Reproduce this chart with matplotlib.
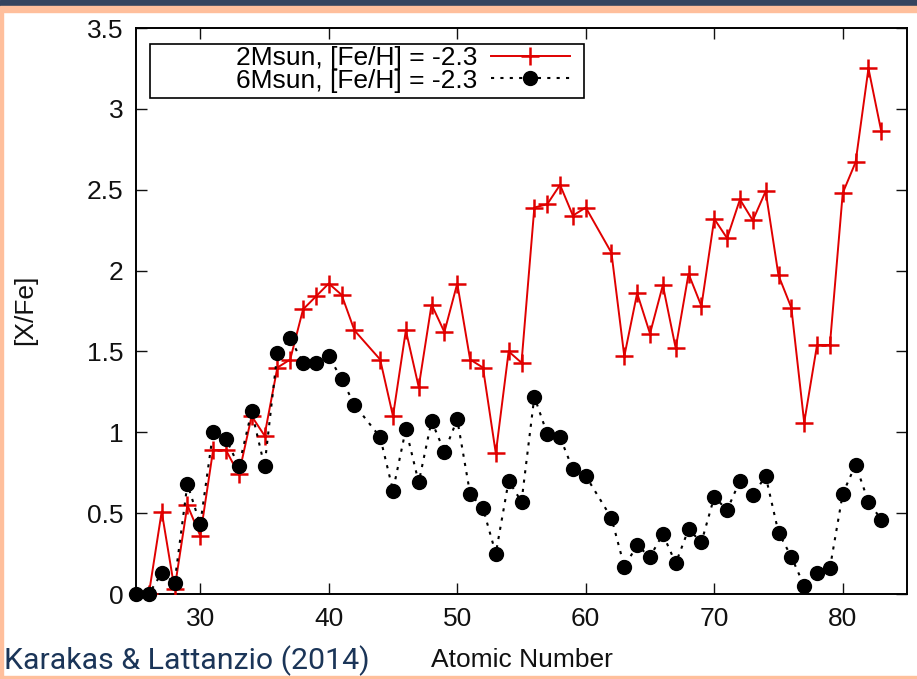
import matplotlib
matplotlib.use('Agg')
import matplotlib.pyplot as plt
from matplotlib.patches import Rectangle
import numpy as np

# [X/Fe] vs atomic number, 2 and 6 Msun AGB models at [Fe/H] = -2.3
z_2m = [26, 27, 28, 29, 30, 31, 32, 33, 34, 35, 36, 37, 38, 39, 40, 41, 42, 44,
        45, 46, 47, 48, 49, 50, 51, 52, 53, 54, 55, 56, 57, 58, 59, 60, 62, 63,
        64, 65, 66, 67, 68, 69, 70, 71, 72, 73, 74, 75, 76, 77, 78, 79, 80, 81,
        82, 83]
xfe_2m = [0.0, 0.51, 0.03, 0.55, 0.36, 0.89, 0.89, 0.74, 1.10, 0.98, 1.40, 1.45,
          1.76, 1.84, 1.92, 1.85, 1.63, 1.45, 1.10, 1.63, 1.28, 1.79, 1.62, 1.92,
          1.45, 1.40, 0.87, 1.50, 1.43, 2.39, 2.41, 2.53, 2.34, 2.39, 2.11, 1.47,
          1.86, 1.61, 1.91, 1.52, 1.98, 1.78, 2.32, 2.20, 2.44, 2.31, 2.49, 1.97,
          1.77, 1.06, 1.54, 1.54, 2.48, 2.67, 3.25, 2.86]

z_6m = [25] + z_2m
xfe_6m = [0.0, 0.0, 0.13, 0.07, 0.68, 0.43, 1.00, 0.96, 0.79, 1.13, 0.79, 1.49,
          1.58, 1.43, 1.43, 1.47, 1.33, 1.17, 0.97, 0.64, 1.02, 0.69, 1.07, 0.88,
          1.08, 0.62, 0.53, 0.25, 0.70, 0.57, 1.22, 0.99, 0.97, 0.77, 0.73, 0.47,
          0.17, 0.30, 0.23, 0.37, 0.19, 0.40, 0.32, 0.60, 0.52, 0.70, 0.61, 0.73,
          0.38, 0.23, 0.05, 0.13, 0.16, 0.62, 0.80, 0.57, 0.46]

lab_2m = '2Msun, [Fe/H] = -2.3'
lab_6m = '6Msun, [Fe/H] = -2.3'

plt.rcParams['font.family'] = ['Liberation Sans', 'DejaVu Sans']
fs = 19

W, H = 917, 679
fig = plt.figure(figsize=(W/100, H/100), dpi=100)

# slide frame: navy bar, salmon strip, thin salmon border
fig.patches.append(Rectangle((0, 1-6/H), 1, 6/H, transform=fig.transFigure,
                             color='#34445f', zorder=0))
fig.patches.append(Rectangle((0, 1-12/H), 1, 6/H, transform=fig.transFigure,
                             color='#ffbf9c', zorder=0))
fig.patches.append(Rectangle((0, 0), 2.5/W, 1-12/H, transform=fig.transFigure,
                             color='#ffbf9c', zorder=0))
fig.patches.append(Rectangle((0, 0), 1, 3/H, transform=fig.transFigure,
                             color='#ffbf9c', zorder=0))

ax = fig.add_axes([136/W, 1-594/H, (907-136)/W, (594-28)/H])
ax.plot(z_2m, xfe_2m, color='#e00000', lw=1.4, marker='+', ms=13, mew=1.8,
        label=lab_2m, zorder=3)
ax.plot(z_6m, xfe_6m, color='black', lw=1.5, ls=(0, (1.5, 3)), marker='o',
        ms=10, mec='black', mfc='black', label=lab_6m, zorder=4, clip_on=False)

ax.set_xlim(25, 85)
ax.set_ylim(0, 3.5)
ax.set_xticks([30, 40, 50, 60, 70, 80])
ax.set_yticks([0, 0.5, 1, 1.5, 2, 2.5, 3, 3.5])
ax.set_yticklabels(['0', '0.5', '1', '1.5', '2', '2.5', '3', '3.5'])
ax.tick_params(direction='in', length=8, width=1, top=True, right=True,
               labelsize=fs, pad=9, colors='#111111')
for s in ax.spines.values():
    s.set_linewidth(1.4)

fig.text(25/W, 1-310/H, '[X/Fe]', fontsize=fs, rotation=90, ha='center',
         va='center', color='#111111')
fig.text(522/W, 1-660/H, 'Atomic Number', fontsize=fs, ha='center', va='center',
         color='#111111')
fig.text(4/W, 1-661/H, 'Karakas & Lattanzio (2014)', fontsize=21.8,
         family=['Roboto', 'DejaVu Sans'], color='#1b3558', ha='left', va='center')

# key: hand-drawn box, legend entries placed inside it
box = Rectangle(((150-136)/771, (594-98)/566), 434/771, 54/566,
                transform=ax.transAxes, fill=False, lw=1.2, ec='black', zorder=5)
ax.add_patch(box)
leg = ax.legend(loc='upper right', bbox_to_anchor=(570/W, 1-46/H),
                bbox_transform=fig.transFigure, frameon=False, fontsize=fs,
                markerfirst=False, handlelength=3.0, handletextpad=0.5,
                borderpad=0, borderaxespad=0, labelspacing=-0.05, numpoints=1)

plt.savefig('out.png', dpi=100)
plt.close()
